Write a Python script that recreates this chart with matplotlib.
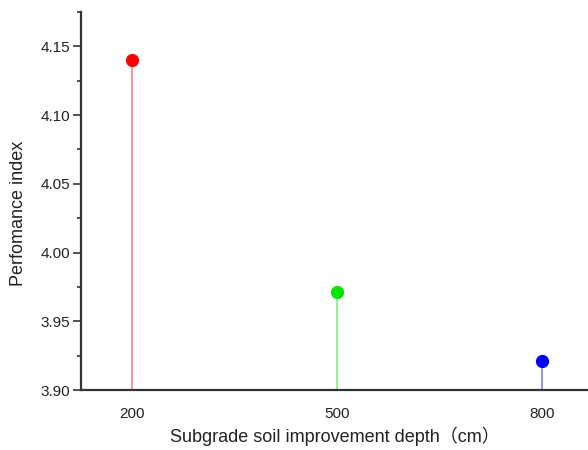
import matplotlib
matplotlib.use("Agg")
import matplotlib.pyplot as plt
from matplotlib.ticker import MultipleLocator

depth = [200, 500, 800]
perf = [4.14, 3.971, 3.921]
colors = ['#ff0000', '#00e600', '#0000ff']
stem_colors = ['#ff7f7f', '#7fef7f', '#7f7fff']

plt.rcParams['font.family'] = ['Liberation Sans', 'Noto Sans CJK SC', 'DejaVu Sans']

fig = plt.figure(figsize=(5.88, 4.5), dpi=100)
ax = fig.add_axes([81 / 588, 60 / 450, 1 - 81 / 588, 378 / 450])

for x, y, c, sc in zip(depth, perf, colors, stem_colors):
    ax.vlines(x, 3.90, y, color=sc, lw=1.2, zorder=2)
    ax.plot(x, y, 'o', color=c, ms=8.5, zorder=3)

ax.set_xlim(125.4, 867)
ax.set_ylim(3.90, 4.175)
ax.set_xticks(depth)
ax.yaxis.set_major_locator(MultipleLocator(0.05))
ax.yaxis.set_minor_locator(MultipleLocator(0.025))
ax.yaxis.set_major_formatter(plt.FormatStrFormatter('%.2f'))

for s in ['top', 'right']:
    ax.spines[s].set_visible(False)
for s in ['left', 'bottom']:
    ax.spines[s].set_linewidth(1.6)
    ax.spines[s].set_color('#333333')

ax.tick_params(axis='x', length=0, pad=12, labelsize=11, colors='#222222')
ax.tick_params(axis='y', which='major', length=6, width=1.2, color='#333333',
               labelsize=11, labelcolor='#222222', pad=2)
ax.tick_params(axis='y', which='minor', length=3, width=1.2, color='#333333')

ax.set_xlabel('Subgrade soil improvement depth（cm）', fontsize=13, color='#222222', labelpad=4)
ax.set_ylabel('Perfomance index', fontsize=13, color='#222222')
ax.yaxis.set_label_coords(-0.106, 0.466)

fig.savefig('out.png', dpi=100)
